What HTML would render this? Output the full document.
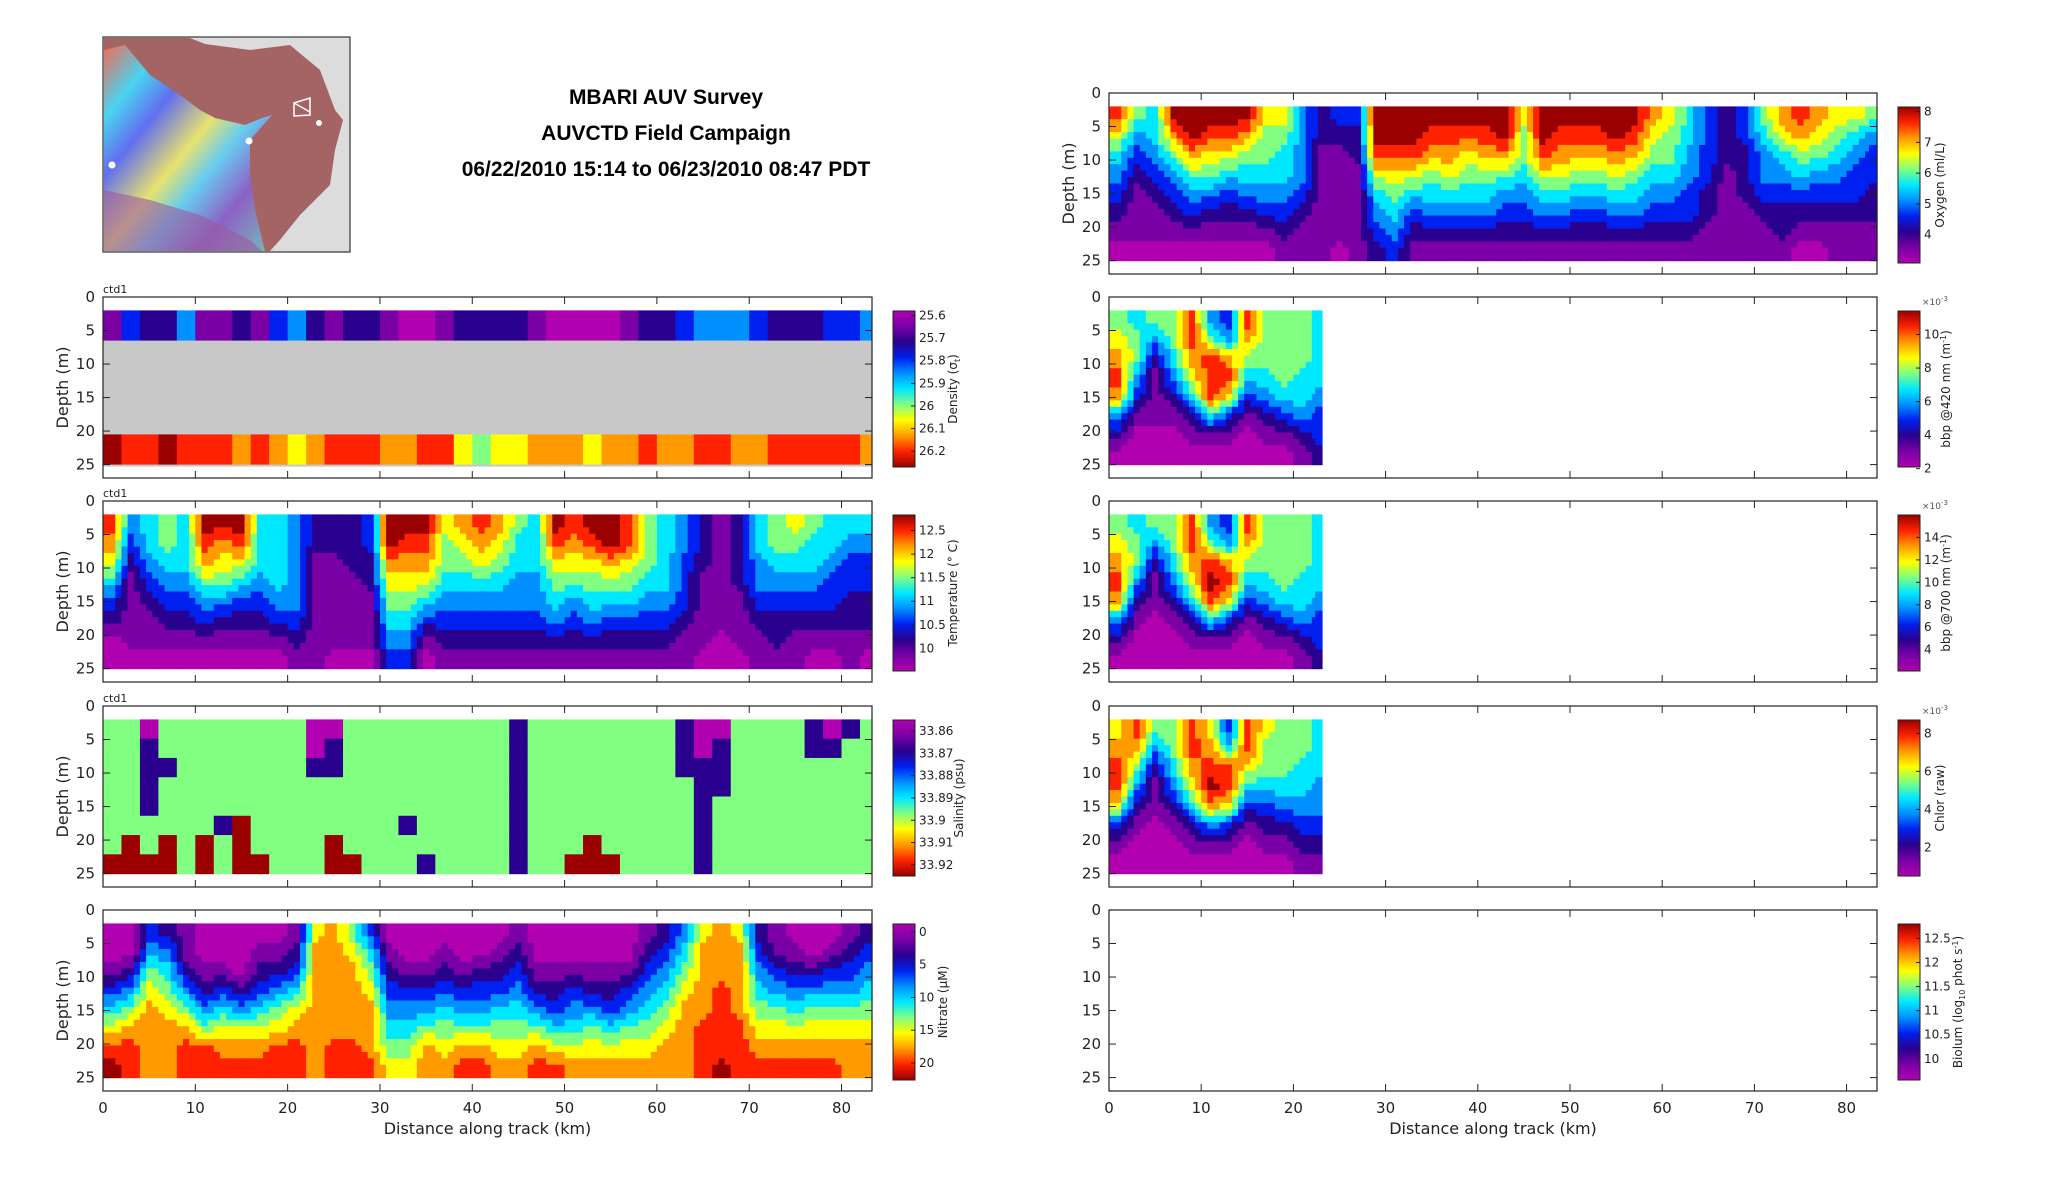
<!DOCTYPE html>
<html><head><meta charset="utf-8">
<style>
html,body{margin:0;padding:0;background:#fff;}
body{width:2052px;height:1188px;overflow:hidden;position:relative;font-family:"DejaVu Sans","Liberation Sans",sans-serif;}
svg text{font-family:"DejaVu Sans","Liberation Sans",sans-serif;}
</style></head>
<body>
<svg id="fig" width="2052" height="1188" viewBox="0 0 2052 1188" xmlns="http://www.w3.org/2000/svg">
  <defs>
    <linearGradient id="bathy" x1="0" y1="0" x2="1" y2="1">
      <stop offset="0" stop-color="#ff6a50"/><stop offset="0.18" stop-color="#40e0ff"/>
      <stop offset="0.32" stop-color="#5a70ff"/><stop offset="0.5" stop-color="#f0f070"/>
      <stop offset="0.62" stop-color="#60d8ff"/><stop offset="0.78" stop-color="#8a60d0"/>
      <stop offset="1" stop-color="#70c8c0"/>
    </linearGradient>
  </defs>
  <g>
    <rect x="103" y="37" width="247" height="215" fill="#dcdcdc" stroke="#333" stroke-width="1.2"/>
    <path d="M104,38 L190,38 L205,44 L250,50 L290,45 L320,70 L335,110 L343,120 L335,150 L330,185 L300,215 L280,240 L270,251 L104,251 Z" fill="#a46464"/>
    <path d="M104,50 L125,45 L150,75 L180,95 L200,110 L215,118 L245,125 L262,118 L272,115 L250,140 L250,175 L255,210 L265,251 L104,251 Z" fill="url(#bathy)" opacity="0.9"/>
    <path d="M104,190 L150,200 L200,215 L250,240 L262,251 L104,251 Z" fill="#9a5aa0" opacity="0.6"/>
    <path d="M294,103 L310,98 L310,115 L294,116 Z M294,103 L310,112" fill="none" stroke="#fff" stroke-width="1.5"/>
    <circle cx="112" cy="165" r="3.5" fill="#fff"/><circle cx="249" cy="141" r="3.5" fill="#fff"/><circle cx="319" cy="123" r="3" fill="#fff"/>
  </g>
  <g font-weight="bold" font-size="21" text-anchor="middle" fill="#000">
    <text x="666" y="104" style="font-family:'Liberation Sans',sans-serif">MBARI AUV Survey</text>
    <text x="666" y="140" style="font-family:'Liberation Sans',sans-serif">AUVCTD Field Campaign</text>
    <text x="666" y="176" style="font-family:'Liberation Sans',sans-serif">06/22/2010 15:14 to 06/23/2010 08:47 PDT</text>
  </g>
  <g id="panels"></g>
</svg>
<script>
// ---------- data (colour-class levels 0..10, 2 km columns × 8 depth rows from 2 to 25 m) ----------
const distanceTicks = [0,10,20,30,40,50,60,70,80];
const depthTicks = [0,5,10,15,20,25];
const densityTop = [1,3,2,2,4,1,1,2,1,3,4,2,1,2,2,1,0,0,1,2,2,2,2,1,0,0,0,0,1,2,2,3,4,4,4,3,2,2,2,3,3,4];
const densityBottom = [10,9,9,10,9,9,9,8,9,8,7,8,9,9,9,8,8,9,9,7,6,7,7,8,8,8,7,8,8,9,8,8,9,9,8,8,9,9,9,9,9,8];
const tempLevels = [
[9,8,7,5,3,2,0,0],[4,3,2,1,1,1,1,0],[5,5,4,3,2,1,1,0],[6,6,5,4,3,2,1,0],[5,5,5,4,3,2,1,0],
[10,9,8,6,4,3,1,0],[10,8,7,6,4,2,1,0],[10,9,7,5,3,2,1,0],[5,5,5,4,3,2,1,0],[5,5,5,5,4,3,1,0],
[4,4,4,4,4,3,2,1],[2,2,1,1,1,1,1,1],[2,2,1,1,1,1,1,0],[2,2,2,1,1,1,1,0],[3,3,2,2,1,1,1,0],
[10,10,8,7,6,5,4,3],[10,9,8,7,6,5,4,3],[10,9,8,7,5,3,1,0],[7,6,6,5,4,3,2,1],[8,7,6,5,4,3,2,1],
[9,8,7,5,4,3,2,1],[8,7,6,5,4,3,2,1],[6,5,5,4,4,3,2,1],[5,5,5,4,4,3,2,1],[10,9,7,6,5,4,2,1],
[9,8,7,6,4,3,2,1],[10,9,7,6,5,4,2,1],[10,10,8,6,5,3,2,1],[9,9,7,6,5,3,2,1],[6,6,6,5,4,3,2,1],
[5,5,5,5,4,3,2,1],[4,4,3,3,3,2,1,1],[2,2,2,1,1,1,1,0],[1,1,1,1,1,1,0,0],[2,2,2,2,1,1,1,0],
[5,5,4,4,3,2,1,1],[6,6,5,4,3,2,2,1],[7,6,5,4,3,2,1,1],[6,5,5,4,3,2,1,0],[5,5,4,3,3,2,1,0],
[5,4,3,3,2,2,1,1],[5,4,3,3,2,2,1,0]];
const salinityLevels = [
[6,6,6,6,6,6,6,10],[6,6,6,6,6,6,10,10],[0,2,2,2,2,6,6,10],[6,6,2,6,6,6,10,10],[6,6,6,6,6,6,6,6],
[6,6,6,6,6,6,10,10],[6,6,6,6,6,2,6,6],[6,6,6,6,6,10,10,10],[6,6,6,6,6,6,6,10],[6,6,6,6,6,6,6,6],
[6,6,6,6,6,6,6,6],[0,0,2,6,6,6,6,6],[0,2,2,6,6,6,10,10],[6,6,6,6,6,6,6,10],[6,6,6,6,6,6,6,6],
[6,6,6,6,6,6,6,6],[6,6,6,6,6,2,6,6],[6,6,6,6,6,6,6,2],[6,6,6,6,6,6,6,6],[6,6,6,6,6,6,6,6],
[6,6,6,6,6,6,6,6],[6,6,6,6,6,6,6,6],[2,2,2,2,2,2,2,2],[6,6,6,6,6,6,6,6],[6,6,6,6,6,6,6,6],
[6,6,6,6,6,6,6,10],[6,6,6,6,6,6,10,10],[6,6,6,6,6,6,6,10],[6,6,6,6,6,6,6,6],[6,6,6,6,6,6,6,6],
[6,6,6,6,6,6,6,6],[2,2,2,6,6,6,6,6],[0,0,2,2,2,2,2,2],[0,2,2,2,6,6,6,6],[6,6,6,6,6,6,6,6],
[6,6,6,6,6,6,6,6],[6,6,6,6,6,6,6,6],[6,6,6,6,6,6,6,6],[2,2,6,6,6,6,6,6],[0,2,6,6,6,6,6,6],
[2,6,6,6,6,6,6,6],[6,6,6,6,6,6,6,6]];
const nitrateLevels = [
[0,0,1,3,5,7,9,10],[0,0,2,4,6,8,9,9],[3,4,6,7,8,8,8,8],[2,4,5,6,7,8,8,8],[1,1,2,4,6,8,9,9],
[0,0,1,2,4,6,9,9],[0,0,1,3,5,7,8,9],[0,0,0,2,4,7,8,9],[0,1,2,3,5,7,8,9],[0,1,2,4,6,7,9,9],
[1,2,3,5,7,8,9,9],[7,8,8,8,8,8,8,8],[8,8,8,8,8,8,9,9],[6,7,8,8,8,8,9,9],[3,5,6,7,8,8,8,9],
[0,1,2,3,4,5,6,7],[0,0,1,3,4,5,6,7],[0,0,1,3,4,6,8,8],[0,1,2,3,5,6,7,8],[0,0,1,3,4,6,8,9],
[0,0,2,3,4,6,8,9],[0,1,2,3,5,6,7,8],[1,2,3,4,5,6,7,8],[0,0,1,2,4,6,8,9],[0,0,1,2,3,5,7,9],
[0,0,1,3,4,5,7,8],[0,0,1,2,4,6,7,8],[0,0,1,2,3,5,7,8],[0,0,1,3,4,6,7,8],[1,2,3,4,5,6,7,8],
[2,3,4,5,6,7,8,8],[4,5,6,7,8,8,8,8],[7,8,8,8,8,9,9,9],[8,8,8,9,9,9,9,10],[7,8,8,8,8,9,9,9],
[2,3,4,5,6,7,8,9],[1,1,3,4,6,7,8,9],[0,1,2,4,5,7,8,9],[0,0,2,4,6,7,8,9],[0,1,3,4,6,7,8,9],
[1,2,3,4,6,7,8,8],[2,3,4,5,6,7,8,8]];
const oxygenLevels = [
[9,7,5,4,3,2,1,0],[6,4,3,2,1,1,1,0],[5,5,4,3,2,1,1,0],[10,8,6,4,3,2,1,0],[10,10,8,6,4,3,1,0],
[10,9,7,6,4,2,1,0],[10,9,7,5,3,2,1,0],[10,8,6,5,4,2,1,0],[7,6,6,5,4,3,1,0],[7,6,5,5,4,3,2,1],
[4,4,4,4,3,2,1,1],[2,2,1,1,1,1,1,1],[3,2,1,1,1,1,1,0],[3,2,2,1,1,1,1,1],[10,10,9,7,5,4,3,2],
[10,10,9,7,6,5,4,3],[10,10,9,7,5,3,2,1],[10,9,8,6,5,4,2,1],[10,9,8,7,5,4,2,1],[10,9,7,6,5,4,2,1],
[10,9,8,6,5,4,2,1],[10,10,8,6,4,3,2,1],[7,6,6,5,4,3,2,1],[10,10,9,7,5,4,2,1],[10,9,8,7,5,4,2,1],
[10,9,8,6,5,3,2,1],[10,9,8,6,5,3,2,1],[10,10,8,7,5,4,2,1],[10,9,8,6,5,4,2,1],[8,7,6,5,4,3,2,1],
[7,6,6,5,4,3,2,1],[5,5,4,4,3,3,2,1],[3,3,3,3,2,2,1,1],[2,2,2,1,1,1,1,1],[3,3,2,2,2,1,1,1],
[6,5,4,4,3,2,1,1],[8,7,5,4,3,2,2,1],[9,8,6,5,3,2,1,0],[8,7,6,4,3,2,1,0],[7,6,5,4,3,2,1,1],
[7,5,4,3,3,2,1,1],[6,4,3,3,2,2,1,1]];
const bbp420Levels = [
[6,7,8,9,8,4,2,0],[5,6,6,4,3,1,0,0],[6,4,2,1,1,1,0,0],[6,6,5,4,2,1,0,0],[9,9,8,7,5,2,1,0],
[4,6,9,9,9,5,1,0],[3,4,8,9,7,3,1,0],[9,8,6,5,3,1,0,0],[6,6,6,5,4,2,1,0],[6,6,6,6,5,3,1,0],
[6,6,6,5,5,4,2,1],[5,5,5,5,4,3,3,2]];
const bbp700Levels = [
[6,7,8,9,8,4,2,0],[5,6,6,4,2,1,0,0],[6,4,2,1,1,0,0,0],[6,6,5,4,2,1,0,0],[9,9,8,7,5,2,1,0],
[4,6,9,10,9,5,1,0],[3,4,8,9,7,3,1,0],[9,8,6,5,3,1,0,0],[6,6,6,5,4,2,1,0],[6,6,6,6,5,3,1,0],
[6,6,6,5,5,4,2,1],[5,5,5,5,4,3,3,2]];
const chlorLevels = [
[7,8,9,9,7,3,1,0],[9,8,6,4,2,1,0,0],[6,4,2,1,1,0,0,0],[6,6,5,4,2,1,0,0],[9,9,8,7,5,2,1,0],
[7,8,9,10,8,4,1,0],[3,5,9,9,7,3,1,0],[9,9,7,5,3,1,0,0],[7,6,6,5,3,2,1,0],[6,6,6,5,4,2,1,0],
[6,6,5,5,4,3,2,1],[5,5,5,4,4,3,2,1]];
// colourbar tick labels
const densityCbTicks = ['25.6','25.7','25.8','25.9','26','26.1','26.2'];
const tempCbTicks = ['12.5','12','11.5','11','10.5','10'];
const salCbTicks = ['33.86','33.87','33.88','33.89','33.9','33.91','33.92'];
const nitrateCbTicks = ['0','5','10','15','20'];
const oxyCbTicks = ['8','7','6','5','4'];
const bbp420CbTicks = ['10','8','6','4','2'];
const bbp700CbTicks = ['14','12','10','8','6','4'];
const chlCbTicks = ['8','6','4','2'];
const biolumCbTicks = ['12.5','12','11.5','11','10.5','10'];

// ---------- layout ----------
const LV=['#b000b0','#7a00a6','#2a008e','#0020f0','#0090ff','#00e8ff','#80ff80','#ffff00','#ff9a00','#ff2200','#9a0000'];
const NS='http://www.w3.org/2000/svg';
const root=document.getElementById('panels');
const XMAX=83.3, YMAX=27, PH=181;
const TOPS=[93,297,501,706,910];
function mk(tag,attrs,parent){const e=document.createElementNS(NS,tag);for(const k in attrs)e.setAttribute(k,attrs[k]);(parent||root).appendChild(e);return e;}
function xs(x0,x1){return d=>x0+(d/XMAX)*(x1-x0);}
function ys(top){return z=>top+(z/YMAX)*PH;}

function panel(o){
  const g=mk('g',{});
  
  
  const X=xs(o.x0,o.x1), Y=ys(o.top);
  if(o.grey){
    const r=mk('rect',{x:X(0),y:Y(2),width:X(XMAX)-X(0),height:Y(25.3)-Y(2),fill:'#c8c8c8'},g);
    
    
    [[o.top1,2,6.5],[o.bot1,20.5,25]].forEach(([arr,z0,z1])=>{
      arr.forEach((lv,i)=>{
        const xa=i*2, xb=Math.min(i*2+2,XMAX);
        const c=mk('rect',{x:X(xa),y:Y(z0),width:X(xb)-X(xa)+0.5,height:Y(z1)-Y(z0),fill:LV[lv]},g);
        
        
      });
    });
  }
  if(o.data){
    const D=o.data, nc=D.length, nr=8, dz=23/nr, xend=o.xend||XMAX;
    const S=o.nearest?1:3;   // sub-cells per data cell for smooth rendering
    const val=(fi,fr)=>{     // bilinear between cell centres (rendering only)
      fi=Math.max(0,Math.min(nc-1,fi)); fr=Math.max(0,Math.min(nr-1,fr));
      const i0=Math.floor(fi), r0=Math.floor(fr), i1=Math.min(nc-1,i0+1), r1=Math.min(nr-1,r0+1);
      const a=fi-i0, b=fr-r0;
      return (D[i0][r0]*(1-a)+D[i1][r0]*a)*(1-b)+(D[i0][r1]*(1-a)+D[i1][r1]*a)*b;
    };
    for(let i=0;i<nc;i++){
      const xa=i*2, xb=Math.min(i*2+2,xend), sw=(xb-xa)/S;
      for(let r=0;r<nr;r++){
        for(let si=0;si<S;si++){
          for(let sr=0;sr<S;sr++){
            const x0=xa+si*sw, z0=2+r*dz+sr*dz/S;
            let lv;
            if(S===1) lv=D[i][r];
            else lv=Math.round(val(i+(si+0.5)/S-0.5, r+(sr+0.5)/S-0.5));
            const c=mk('rect',{x:X(x0),y:Y(z0),width:X(x0+sw)-X(x0)+0.6,height:Y(z0+dz/S)-Y(z0)+0.6,fill:LV[lv]},g);
            
            
          }
        }
      }
    }
  }
  const b=mk('rect',{x:o.x0,y:o.top,width:o.x1-o.x0,height:PH,fill:'none',stroke:'#222','stroke-width':1.2},g);
  
  
  distanceTicks.forEach(t=>{
    const x=X(t);
    const a=mk('line',{x1:x,y1:o.top+PH,x2:x,y2:o.top+PH-7,stroke:'#222'},g);
    
    
    mk('line',{x1:x,y1:o.top,x2:x,y2:o.top+7,stroke:'#222'},g);
    if(o.xlabels){
      const tl=mk('text',{x:x,y:o.top+PH+22,'font-size':15,'text-anchor':'middle',fill:'#222'},g);
      tl.textContent=t;
      
      
    }
  });
  depthTicks.forEach(t=>{
    const y=Y(t);
    const a=mk('line',{x1:o.x0,y1:y,x2:o.x0+7,y2:y,stroke:'#222'},g);
    
    
    mk('line',{x1:o.x1,y1:y,x2:o.x1-7,y2:y,stroke:'#222'},g);
    const tl=mk('text',{x:o.x0-8,y:y+5,'font-size':15,'text-anchor':'end',fill:'#222'},g);
    tl.textContent=t;
    
    
  });
  if(o.ylabel){
    const yl=mk('text',{x:0,y:0,'font-size':16,'text-anchor':'middle',fill:'#222',transform:`translate(${o.x0-35},${o.top+PH/2}) rotate(-90)`},g);
    yl.textContent='Depth (m)';
    
    
  }
  if(o.xlabels){
    const xl=mk('text',{x:(o.x0+o.x1)/2,y:o.top+PH+43,'font-size':16,'text-anchor':'middle',fill:'#222'},g);
    xl.textContent='Distance along track (km)';
    
    
  }
  if(o.ctd){
    const ct=mk('text',{x:o.x0,y:o.top-4,'font-size':11,fill:'#222'},g);
    ct.textContent='ctd1';
    
    
  }
  const cx=o.x1+21, cw=22, cy=o.top+14, ch=156;
  const gid='cg_'+o.name;
  const lg=mk('linearGradient',{id:gid,x1:0,y1:0,x2:0,y2:1},g);
  LV.forEach((c,i)=>{mk('stop',{offset:(i/10),'stop-color':LV[o.rev?i:10-i]},lg);});
  const cb=mk('rect',{x:cx,y:cy,width:cw,height:ch,fill:`url(#${gid})`,stroke:'#222','stroke-width':1},g);
  
  
  const [vt,vb]=o.range;
  o.ticks.forEach(t=>{
    const v=parseFloat(t);
    const y=cy+(vt-v)/(vt-vb)*ch;
    mk('line',{x1:cx+cw-4,y1:y,x2:cx+cw,y2:y,stroke:'#222'},g);
    const tl=mk('text',{x:cx+cw+4,y:y+4,'font-size':12,fill:'#222'},g);
    tl.textContent=t;
    
    
  });
  const lx=cx+cw+o.lblOff;
  const lab=mk('text',{x:0,y:0,'font-size':12,'text-anchor':'middle',fill:'#222',transform:`translate(${lx},${cy+ch/2}) rotate(-90)`},g);
  lab.innerHTML=o.label;
  
  
  if(o.exp){
    const ex=mk('text',{x:cx+cw+2,y:cy-6,'font-size':9,fill:'#555'},g);
    ex.innerHTML='×10<tspan dy="-4" font-size="7">-3</tspan>';
    
    
  }
}
const L0=103,L1=872,R0=1109,R1=1877;
panel({name:'density',x0:L0,x1:L1,top:TOPS[1],grey:true,top1:densityTop,bot1:densityBottom,ylabel:true,ctd:true,rev:true,range:[25.58,26.27],ticks:densityCbTicks,label:'Density (σ<tspan dy="3" font-size="8">t</tspan><tspan dy="-3">)</tspan>',lblOff:42});
panel({name:'temperature',x0:L0,x1:L1,top:TOPS[2],data:tempLevels,ylabel:true,ctd:true,range:[12.83,9.52],ticks:tempCbTicks,label:'Temperature (° C)',lblOff:42});
panel({name:'salinity',x0:L0,x1:L1,top:TOPS[3],data:salinityLevels,nearest:true,ylabel:true,ctd:true,rev:true,range:[33.855,33.925],ticks:salCbTicks,label:'Salinity (psu)',lblOff:48});
panel({name:'nitrate',x0:L0,x1:L1,top:TOPS[4],data:nitrateLevels,ylabel:true,xlabels:true,rev:true,range:[-1.2,22.6],ticks:nitrateCbTicks,label:'Nitrate (μM)',lblOff:32});
panel({name:'oxygen',x0:R0,x1:R1,top:TOPS[0],data:oxygenLevels,ylabel:true,range:[8.15,3.08],ticks:oxyCbTicks,label:'Oxygen (ml/L)',lblOff:24});
panel({name:'bbp420',x0:R0,x1:R1,top:TOPS[1],data:bbp420Levels,xend:23.1,range:[11.4,2.1],ticks:bbp420CbTicks,exp:true,label:'bbp @420 nm (m<tspan dy="-4" font-size="8">-1</tspan><tspan dy="4">)</tspan>',lblOff:30});
panel({name:'bbp700',x0:R0,x1:R1,top:TOPS[2],data:bbp700Levels,xend:23.1,range:[16,2.1],ticks:bbp700CbTicks,exp:true,label:'bbp @700 nm (m<tspan dy="-4" font-size="8">-1</tspan><tspan dy="4">)</tspan>',lblOff:30});
panel({name:'chlorophyll',x0:R0,x1:R1,top:TOPS[3],data:chlorLevels,xend:23.1,range:[8.7,0.5],ticks:chlCbTicks,exp:true,label:'Chlor (raw)',lblOff:24});
panel({name:'biolum',x0:R0,x1:R1,top:TOPS[4],xlabels:true,range:[12.8,9.56],ticks:biolumCbTicks,label:'Biolum (log<tspan dy="3" font-size="8">10</tspan><tspan dy="-3"> phot s</tspan><tspan dy="-4" font-size="8">-1</tspan><tspan dy="4">)</tspan>',lblOff:42});
</script>
</body></html>
